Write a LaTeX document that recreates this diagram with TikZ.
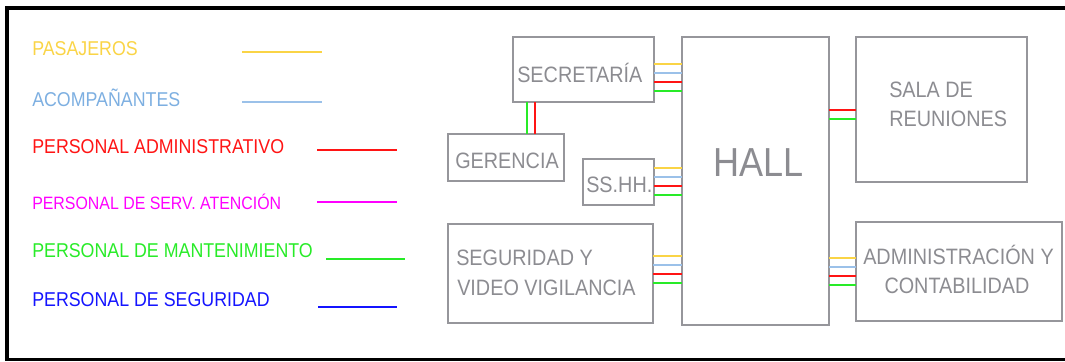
\documentclass[tikz,border=0pt]{standalone}
\usepackage{fontspec}
\setmainfont[FakeStretch=0.89]{Liberation Sans}
\usetikzlibrary{calc}
\definecolor{boxgray}{RGB}{150,150,155}
\definecolor{txtgray}{RGB}{140,140,145}
\definecolor{cyel}{RGB}{250,212,70}
\definecolor{cblutxt}{RGB}{125,175,225}
\definecolor{cblu}{RGB}{155,193,233}
\definecolor{cred}{RGB}{255,20,20}
\definecolor{cmag}{RGB}{255,0,255}
\definecolor{cgrn}{RGB}{40,235,40}
\definecolor{cblue}{RGB}{20,20,255}
\begin{document}
\begin{tikzpicture}[x=0.75pt,y=-0.75pt,
  box/.style={draw=boxgray, line width=2.2pt, inner sep=0pt, outer sep=0pt},
  sz/.style 2 args={minimum width=#1*0.75pt, minimum height=#2*0.75pt},
  lg/.style={anchor=base west, inner sep=0pt, font=\fontsize{15pt}{18pt}\selectfont},
  bt/.style={anchor=base west, inner sep=0pt, text=txtgray, font=\fontsize{16.7pt}{20pt}\selectfont},
  btc/.style={anchor=base, inner sep=0pt, text=txtgray, font=\fontsize{16.7pt}{20pt}\selectfont},
  lgline/.style={line width=1.2pt},
  con/.style={line width=1.5pt}]
\useasboundingbox (0,0) rectangle (1065,361);
% frame
\draw[line width=2.6pt, line join=miter] (1068,8) -- (7,8) -- (7,359.5) -- (1068,359.5);

% legend
\node[lg, text=cyel] (l1) at (32,55) {PASAJEROS};
\node[lg, text=cblutxt] (l2) at (32,106) {ACOMPAÑANTES};
\node[lg, text=cred] (l3) at (32,153.3) {PERSONAL ADMINISTRATIVO};
\node[lg, text=cmag, font=\fontsize{13.4pt}{16pt}\selectfont] (l4) at (32,209.3) {PERSONAL DE SERV. ATENCIÓN};
\node[lg, text=cgrn] (l5) at (32,257.3) {PERSONAL DE MANTENIMIENTO};
\node[lg, text=cblue] (l6) at (32,306) {PERSONAL DE SEGURIDAD};
\draw[lgline, cyel] (242,52) -- (322,52);
\draw[lgline, cblu] (242,102) -- (322,102);
\draw[lgline, cred] (317,150) -- (397,150);
\draw[lgline, cmag] (317,202) -- (397,202);
\draw[lgline, cgrn] (326,259) -- (405,259);
\draw[lgline, cblue] (318,307) -- (397,307);

% boxes
\node[box, sz={141}{65}] (sec) at (583.5,69.5) {};
\node[box, sz={116}{47}] (ger) at (506,157.5) {};
\node[box, sz={71}{46}] (ss) at (618.5,182) {};
\node[box, sz={205}{99}] (seg) at (550.5,273.5) {};
\node[box, sz={147}{288}] (hall) at (755.5,181) {};
\node[box, sz={171}{145}] (sala) at (941.5,109.5) {};
\node[box, sz={206}{99}] (adm) at (959,271.5) {};

% box texts
\node[bt] (tsec) at (517,82.3) {SECRETARÍA};
\node[bt] (tger) at (455,168.3) {GERENCIA};
\node[bt] (tss) at (586,192.7) {SS.HH.};
\node[bt] (tseg1) at (456,265.7) {SEGURIDAD Y};
\node[bt] (tseg2) at (457,295) {VIDEO VIGILANCIA};
\node[anchor=base west, inner sep=0pt, text=txtgray, font=\fontsize{30.4pt}{36pt}\selectfont] (thall) at (713,176) {HALL};
\node[bt] (tsala1) at (889,97.3) {SALA DE};
\node[bt] (tsala2) at (889,126) {REUNIONES};
\node[btc] (tadm1) at (958.5,264) {ADMINISTRACIÓN Y};
\node[btc] (tadm2) at (957,293) {CONTABILIDAD};

% connectors secretaria - gerencia
\draw[con, cgrn] (sec.south -| 527,0) -- (ger.north -| 527,0);
\draw[con, cred] (sec.south -| 535,0) -- (ger.north -| 535,0);

% secretaria - hall
\draw[con, cyel] (sec.east |- 0,63.5) -- (hall.west |- 0,63.5);
\draw[con, cblu] (sec.east |- 0,72.5) -- (hall.west |- 0,72.5);
\draw[con, cred] (sec.east |- 0,81.5) -- (hall.west |- 0,81.5);
\draw[con, cgrn] (sec.east |- 0,90.5) -- (hall.west |- 0,90.5);
% ss.hh - hall
\draw[con, cyel] (ss.east |- 0,167.5) -- (hall.west |- 0,167.5);
\draw[con, cblu] (ss.east |- 0,176.5) -- (hall.west |- 0,176.5);
\draw[con, cred] (ss.east |- 0,185.5) -- (hall.west |- 0,185.5);
\draw[con, cgrn] (ss.east |- 0,194.5) -- (hall.west |- 0,194.5);
% seguridad - hall
\draw[con, cyel] (seg.east |- 0,256) -- (hall.west |- 0,256);
\draw[con, cblu] (seg.east |- 0,265) -- (hall.west |- 0,265);
\draw[con, cred] (seg.east |- 0,274) -- (hall.west |- 0,274);
\draw[con, cgrn] (seg.east |- 0,283) -- (hall.west |- 0,283);
% hall - sala
\draw[con, cred] (hall.east |- 0,110) -- (sala.west |- 0,110);
\draw[con, cgrn] (hall.east |- 0,119) -- (sala.west |- 0,119);
% hall - administracion
\draw[con, cyel] (hall.east |- 0,257.5) -- (adm.west |- 0,257.5);
\draw[con, cblu] (hall.east |- 0,266.5) -- (adm.west |- 0,266.5);
\draw[con, cred] (hall.east |- 0,275.5) -- (adm.west |- 0,275.5);
\draw[con, cgrn] (hall.east |- 0,284.5) -- (adm.west |- 0,284.5);
\end{tikzpicture}
\end{document}
